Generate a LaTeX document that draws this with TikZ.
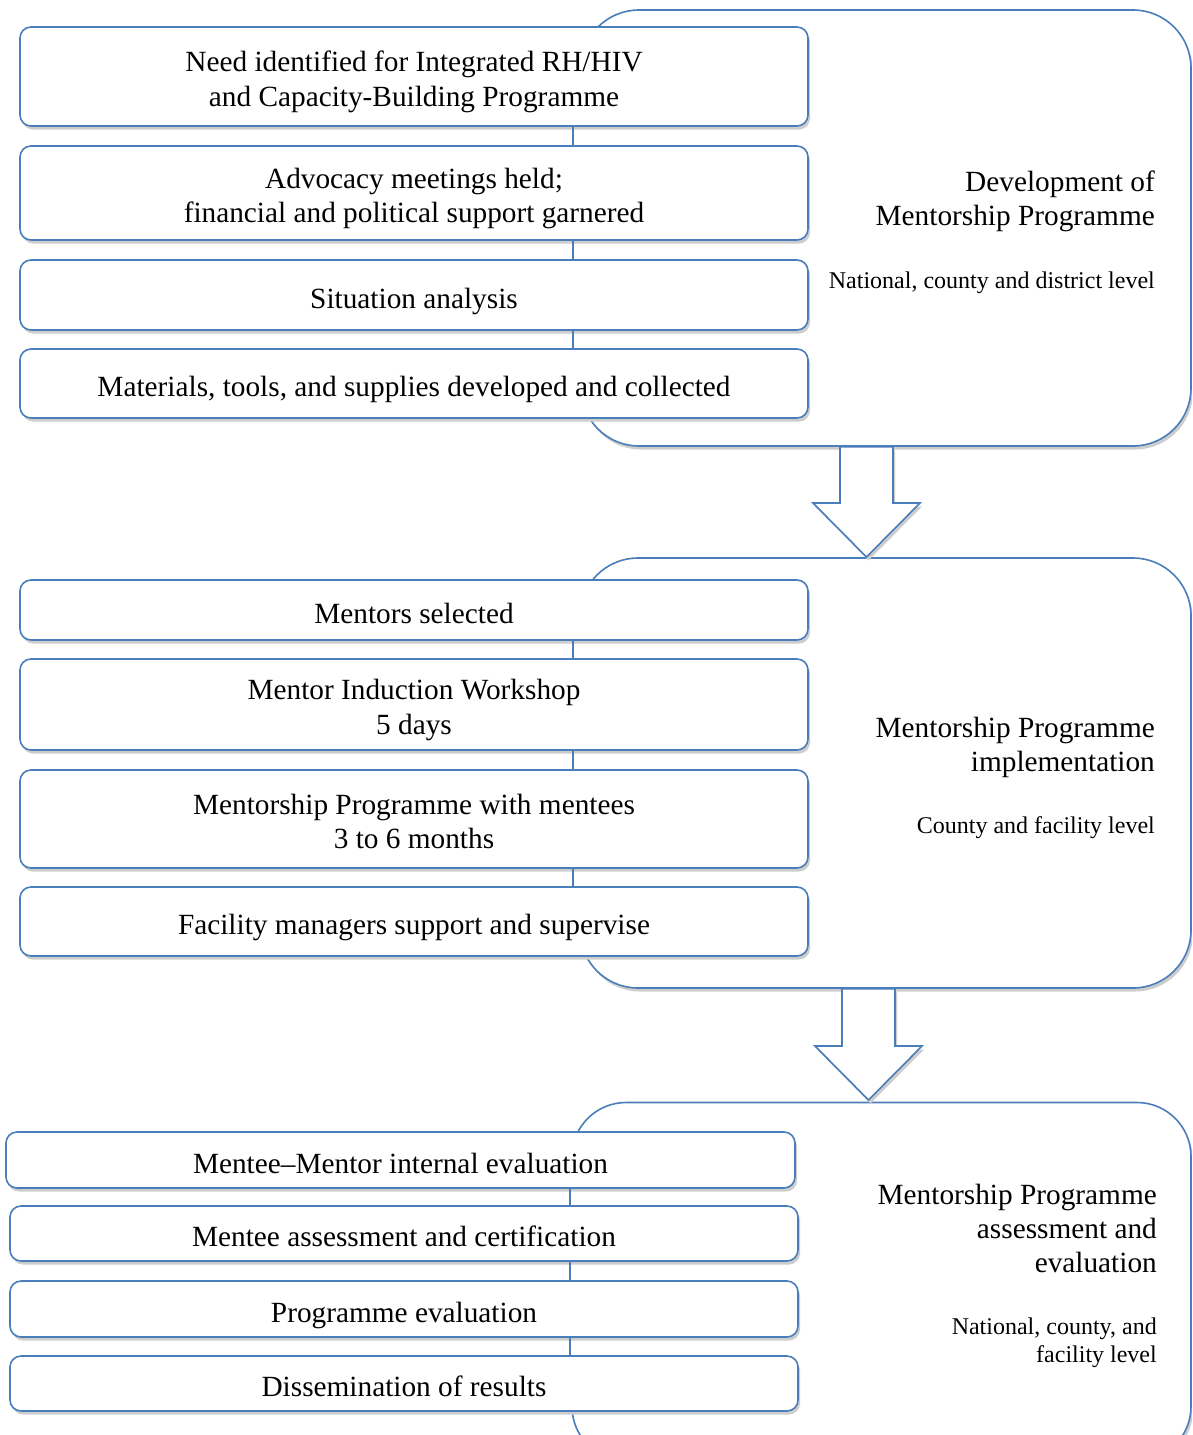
\documentclass[tikz,border=0pt]{standalone}
\usepackage{fontspec}
\setmainfont{Liberation Serif}
\usetikzlibrary{shadows}
\definecolor{bordblue}{RGB}{74,126,187}
\definecolor{shad}{RGB}{205,205,205}
\newcommand\twolines[2]{\raisebox{0pt}[\dimexpr\height+11pt\relax][\depth]{\begin{tabular}{@{}c@{}}#1\\#2\end{tabular}}}
\tikzset{
  shd/.style={drop shadow={shadow xshift=2pt, shadow yshift=-3.5pt, fill=shad, opacity=1}},
  stepbox/.style={draw=bordblue, line width=1.6pt, fill=white, rounded corners=11pt,
    align=center, inner sep=0pt, font=\fontsize{29.3}{34.3}\selectfont, shd,
    execute at begin node={\rule{0pt}{33pt}},
    execute at end node={\rule[-6.5pt]{0pt}{0pt}}},
  phasebox/.style={draw=bordblue, line width=1.6pt, fill=white, inner sep=0pt, shd},
  columnbg/.style={fill=white, draw=none},
  heading/.style={anchor=east, align=right, inner sep=0pt, font=\fontsize{29.3}{34}\selectfont},
  levelnote/.style={anchor=east, align=right, inner sep=0pt, font=\fontsize{24}{28}\selectfont},
  link/.style={draw=bordblue, line width=1.6pt},
  blockarrow/.style={draw=bordblue, line width=1.6pt, fill=white, line join=miter, shd}
}
\begin{document}
\begin{tikzpicture}[x=1pt,y=-1pt]
\clip (0,0) rectangle (1192,1435);
\fill[white] (0,0) rectangle (1192,1435);

% phase boxes
\node[phasebox, rounded corners=58pt, minimum width=610pt, minimum height=436pt] (P1) at (886,228) {};
\node[phasebox, rounded corners=58pt, minimum width=611pt, minimum height=430pt] (P2) at (885.5,773) {};
\node[phasebox, rounded corners=54pt, minimum width=619pt, minimum height=358pt] (P3) at (881.5,1281.5) {};

% block arrows
\draw[blockarrow] (P1.south -| 840,0) -- (840,503) -- (813,503) -- (866.5,557) -- (920,503) -- (893,503) -- (P1.south -| 893,0) -- cycle;
\draw[blockarrow] (P2.south -| 842,0) -- (842,1046) -- (815,1046) -- (868.5,1100) -- (922,1046) -- (895,1046) -- (P2.south -| 895,0) -- cycle;

% white column backgrounds
\fill[columnbg] (0,27) rectangle (810,418);
\fill[columnbg] (0,580) rectangle (810,956);
\fill[columnbg] (0,1132) rectangle (800,1411);

% group 1
\coordinate (k1) at (573,0);
\node[stepbox, minimum width=788pt, minimum height=99pt] (a1) at (414,76.5) {\twolines{Need identified for Integrated RH/HIV}{and Capacity-Building Programme}};
\node[stepbox, minimum width=788pt, minimum height=94pt] (a2) at (414,193) {\twolines{Advocacy meetings held;}{financial and political support garnered}};
\node[stepbox, minimum width=788pt, minimum height=70pt] (a3) at (414,295) {Situation analysis};
\node[stepbox, minimum width=788pt, minimum height=69pt] (a4) at (414,383.5) {Materials, tools, and supplies developed and collected};
\draw[link] (a1.south -| k1) -- (a2.north -| k1);
\draw[link] (a2.south -| k1) -- (a3.north -| k1);
\draw[link] (a3.south -| k1) -- (a4.north -| k1);

% group 2
\node[stepbox, minimum width=788pt, minimum height=60pt] (b1) at (414,610) {Mentors selected};
\node[stepbox, minimum width=788pt, minimum height=91pt] (b2) at (414,704.5) {\twolines{Mentor Induction Workshop}{5 days}};
\node[stepbox, minimum width=788pt, minimum height=98pt] (b3) at (414,819) {\twolines{Mentorship Programme with mentees}{3 to 6 months}};
\node[stepbox, minimum width=788pt, minimum height=69pt] (b4) at (414,921.5) {Facility managers support and supervise};
\draw[link] (b1.south -| k1) -- (b2.north -| k1);
\draw[link] (b2.south -| k1) -- (b3.north -| k1);
\draw[link] (b3.south -| k1) -- (b4.north -| k1);

% group 3
\coordinate (k3) at (570,0);
\node[stepbox, minimum width=789pt, minimum height=56pt] (c1) at (400.5,1160) {Mentee--Mentor internal evaluation};
\node[stepbox, minimum width=788pt, minimum height=55pt] (c2) at (404,1233.5) {Mentee assessment and certification};
\node[stepbox, minimum width=788pt, minimum height=56pt] (c3) at (404,1309) {Programme evaluation};
\node[stepbox, minimum width=788pt, minimum height=55pt] (c4) at (404,1383.5) {Dissemination of results};
\draw[link] (c1.south -| k3) -- (c2.north -| k3);
\draw[link] (c2.south -| k3) -- (c3.north -| k3);
\draw[link] (c3.south -| k3) -- (c4.north -| k3);

% phase labels
\node[heading] (h1) at (1155,201) {Development of\\Mentorship Programme};
\node[levelnote] (l1) at (1155,283) {National, county and district level};
\node[heading] (h2) at (1155,747) {Mentorship Programme\\implementation};
\node[levelnote] (l2) at (1155,828) {County and facility level};
\node[heading] (h3) at (1157,1228) {Mentorship Programme\\assessment and\\evaluation};
\node[levelnote] (l3) at (1157,1343) {National, county, and\\facility level};
\end{tikzpicture}
\end{document}
